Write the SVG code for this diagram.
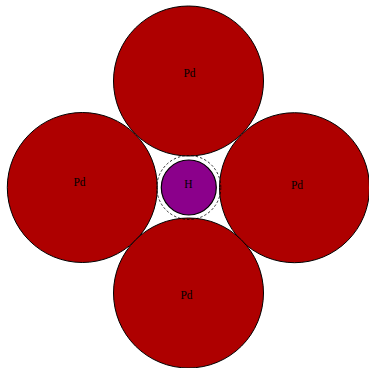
<svg xmlns="http://www.w3.org/2000/svg" width="369" height="368" viewBox="0 0 369 368">
<style>
.pd{fill:#ae0000;stroke:#000;stroke-width:1}
.h{fill:#8b008b;stroke:#000;stroke-width:1.2}
.shell{fill:none;stroke:#000;stroke-width:0.8;stroke-dasharray:2.5,2}
text{font-family:"Liberation Serif","Times New Roman",serif;font-size:11.5px;fill:#000;text-anchor:middle;dominant-baseline:central}
</style>
<rect width="369" height="368" fill="#fff"/>
<g id="pd-top"><circle class="pd" cx="188.5" cy="81" r="75"/><text x="189.5" y="72.5">Pd</text></g>
<g id="pd-left"><circle class="pd" cx="82.3" cy="187.5" r="75"/><text x="79.5" y="181.5">Pd</text></g>
<g id="pd-right"><circle class="pd" cx="294.5" cy="187.7" r="75"/><text x="297" y="184.5">Pd</text></g>
<g id="pd-bottom"><circle class="pd" cx="188.5" cy="293" r="75"/><text x="186.5" y="295">Pd</text></g>
<g id="h"><circle class="shell" cx="188.8" cy="187.5" r="32"/><circle class="h" cx="188.8" cy="187.5" r="27.5"/><text x="188.3" y="183.5">H</text></g>
<g id="connectors"/>
</svg>
